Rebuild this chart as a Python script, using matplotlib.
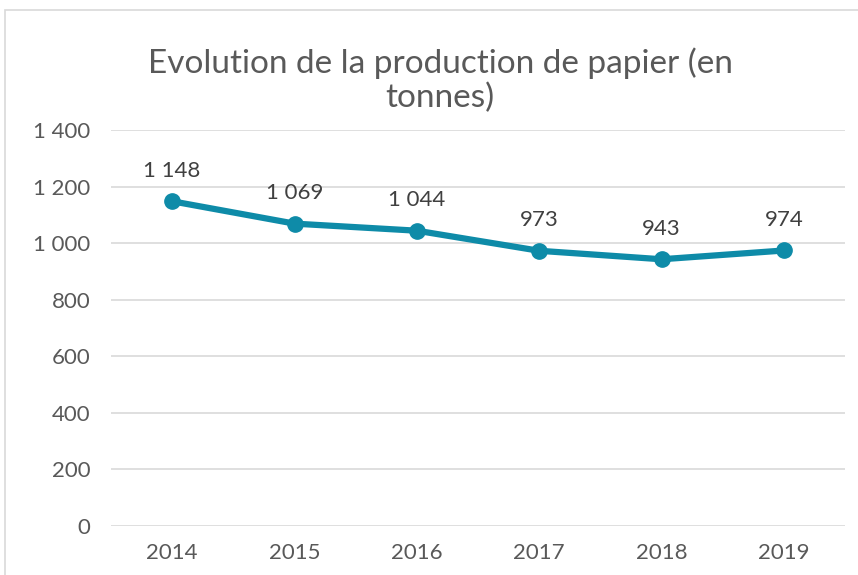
import matplotlib
matplotlib.use("Agg")
import matplotlib.pyplot as plt
from matplotlib.patches import Rectangle

years = ["2014", "2015", "2016", "2017", "2018", "2019"]
values = [1148, 1069, 1044, 973, 943, 974]
yticks = [0, 200, 400, 600, 800, 1000, 1200, 1400]

def fmt(v):
    s = f"{v:,}".replace(",", " ")
    return s

plt.rcParams['font.family'] = ['Lato', 'DejaVu Sans']

fig = plt.figure(figsize=(8.58, 5.75), dpi=100)
fig.patches.append(Rectangle((5/858, -0.1), 1.2, 1 - 10/575 + 0.1, transform=fig.transFigure,
                             fill=False, edgecolor='#d9d9d9', linewidth=1.2))
ax = fig.add_axes([111/858, 1 - 526/575, (845 - 111)/858, (526 - 130)/575])

x = list(range(len(years)))
color = '#0e8ba8'
ax.plot(x, values, color=color, linewidth=4.5, marker='o', markersize=11, solid_capstyle='round')
for xi, v in zip(x, values):
    ax.annotate(fmt(v), (xi, v), xytext=(0, 22), textcoords='offset points',
                ha='center', va='center', fontsize=16, color='#404040')

ax.set_xlim(-0.5, len(years) - 0.5)
ax.set_ylim(0, 1400)
ax.set_yticks(yticks)
ax.set_yticklabels([fmt(t) for t in yticks])
ax.set_xticks(x)
ax.set_xticklabels(years)
ax.tick_params(axis='both', length=0, labelsize=16, labelcolor='#595959')
ax.tick_params(axis='y', pad=15)
ax.tick_params(axis='x', pad=12)
ax.grid(axis='y', color='#d9d9d9', linewidth=1.2)
ax.set_axisbelow(True)
for s in ax.spines.values():
    s.set_visible(False)

fig.text(440/858, 1 - 80/575, "Evolution de la production de papier (en\ntonnes)", ha='center', va='center',
         fontsize=24, color='#595959', linespacing=1.15)

fig.savefig("out.png", dpi=100)
